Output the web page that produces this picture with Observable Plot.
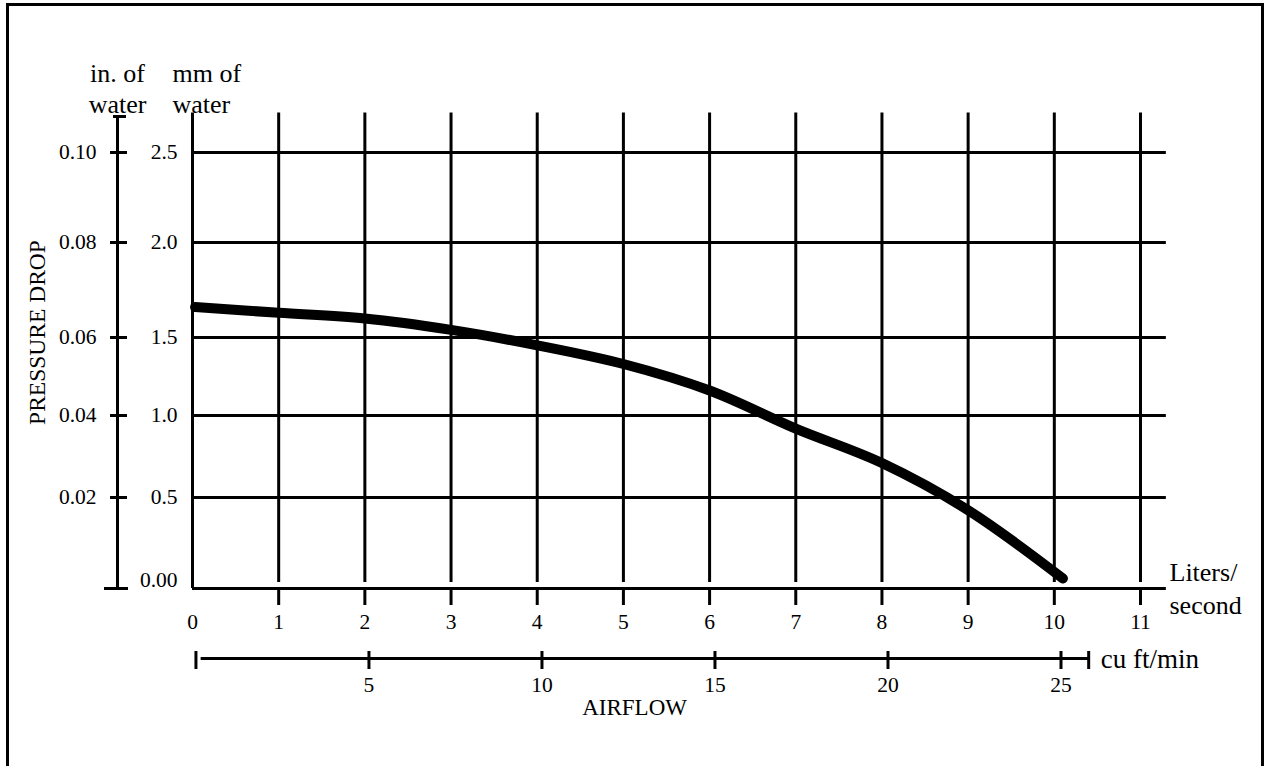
<!DOCTYPE html>
<html><head><meta charset="utf-8">
<script src="https://cdn.jsdelivr.net/npm/d3@7"></script>
<script src="https://cdn.jsdelivr.net/npm/@observablehq/plot@0.6"></script>
<style>
html,body{margin:0;padding:0;overflow:hidden;background:#fff;width:1264px;height:766px}
#chart{position:absolute;left:0;top:0}
#border{position:absolute;left:6px;top:3px;width:1252px;height:800px;border:3px solid #000;border-bottom:none;pointer-events:none}
</style></head><body>
<div id="chart"></div><div id="border"></div>
<script>
// ---- data ----
const airflowLps = [0.03, 1, 2, 3, 4, 5, 6, 7, 8, 9, 10.1];
const pressureMm = [1.66, 1.63, 1.60, 1.54, 1.45, 1.33, 1.16, 0.92, 0.71, 0.43, 0.055];
const lpsTicks = [0, 1, 2, 3, 4, 5, 6, 7, 8, 9, 10, 11];
const mmTicks = [0.5, 1.0, 1.5, 2.0, 2.5];
const inTicks = [0.02, 0.04, 0.06, 0.08, 0.10];
const inZeroLabel = "0.00";
const cfmTicks = [5, 10, 15, 20, 25];
const cfmEnds = [0, 25.8];
const mmPerInch = 25;                  // alignment of the two pressure scales in the chart
const cfmToLps = c => 0.04 + 0.4015 * c; // alignment of the cfm scale with the L/s scale

const gridTop = 2.72, gridRight = 11.3;
const curve = airflowLps.map((x, i) => ({x, y: pressureMm[i]}));
const SW = 3;
const NUM = 21.5, WORD = 26, CAPS = 23;

const chart = Plot.plot({
  width: 1264, height: 766,
  marginLeft: 192, marginRight: 124, marginTop: 152, marginBottom: 178,
  style: {fontFamily: "'Liberation Serif', 'Times New Roman', serif", fontSize: "21px", background: "white", color: "black"},
  x: {type: "linear", domain: [0, 11], axis: null},
  y: {type: "linear", domain: [0, 0.5, 1, 1.5, 2, 2.5], range: [588, 497, 415, 337, 242, 152], axis: null},
  marks: [
    // grid
    Plot.ruleY([0, ...mmTicks], {y: d => d, x1: 0, x2: gridRight, strokeWidth: SW}),
    Plot.ruleX([0], {x: d => d, y1: gridTop, y2: 0, strokeWidth: SW}),
    Plot.ruleX(lpsTicks.slice(1), {x: d => d, y1: gridTop, y2: 0, insetBottom: 6, strokeWidth: SW}),
    Plot.ruleX(lpsTicks.slice(1), {x: d => d, y1: 0, y2: 0, insetTop: 2, insetBottom: -17, strokeWidth: SW}),
    // inch axis
    Plot.ruleX([0], {x: d => d, y1: 0, y2: 2.7, dx: -75, strokeWidth: SW}),
    Plot.ruleY(inTicks, {y: d => d * mmPerInch, x1: 0, x2: 0, dx: -75, insetLeft: -7, insetRight: -10, strokeWidth: SW}),
    Plot.ruleY([0], {y: d => d, x1: 0, x2: 0, dx: -75, insetLeft: -13, insetRight: -11, strokeWidth: SW}),
    Plot.ruleY([2.7], {y: d => d, x1: 0, x2: 0, dx: -75, insetLeft: -4, insetRight: -9, strokeWidth: SW}),
    // cfm axis
    Plot.ruleY([0], {y: d => d, x1: cfmToLps(0.15), x2: cfmToLps(cfmEnds[1]), dy: 70, strokeWidth: SW}),
    Plot.ruleX([...cfmEnds, ...cfmTicks], {x: cfmToLps, y1: 0, y2: 0, dy: 70, insetTop: -7, insetBottom: -11, strokeWidth: SW}),
    // curve
    Plot.line(curve, {x: "x", y: "y", stroke: "black", strokeWidth: 10, curve: "catmull-rom"}),
    // labels
    Plot.text(lpsTicks, {x: d => d, frameAnchor: "bottom", lineAnchor: "middle", dy: 34, text: d => `${d}`, fontSize: NUM}),
    Plot.text(mmTicks, {y: d => d, frameAnchor: "left", lineAnchor: "middle", dx: -15, textAnchor: "end", text: d => d.toFixed(1), fontSize: NUM}),
    Plot.text([inZeroLabel], {y: () => 0, frameAnchor: "left", lineAnchor: "middle", dx: -15, dy: -8, textAnchor: "end", text: d => d, fontSize: NUM}),
    Plot.text(inTicks, {y: d => d * mmPerInch, frameAnchor: "left", lineAnchor: "middle", dx: -96, textAnchor: "end", text: d => d.toFixed(2), fontSize: NUM}),
    Plot.text(["in. of\nwater"], {frameAnchor: "top-left", lineAnchor: "middle", dx: -75, dy: -64.5, textAnchor: "middle", lineHeight: 1.19, fontSize: WORD}),
    Plot.text(["mm of\nwater"], {frameAnchor: "top-left", lineAnchor: "middle", dx: -20, dy: -64.5, textAnchor: "start", lineHeight: 1.19, fontSize: WORD}),
    Plot.text(["PRESSURE DROP"], {frameAnchor: "left", lineAnchor: "middle", textAnchor: "middle", dx: -155, dy: -38, rotate: -90, fontSize: 23.5}),
    Plot.text(["Liters/\nsecond"], {frameAnchor: "bottom-right", lineAnchor: "middle", dx: 29, dy: -1.5, textAnchor: "start", lineHeight: 1.27, fontSize: WORD}),
    Plot.text(cfmTicks, {x: cfmToLps, frameAnchor: "bottom", lineAnchor: "middle", dy: 97, text: d => `${d}`, fontSize: NUM}),
    Plot.text(["cu ft/min"], {x: () => cfmToLps(cfmEnds[1]), frameAnchor: "bottom", lineAnchor: "middle", dy: 71, dx: 12, textAnchor: "start", fontSize: WORD + 1}),
    Plot.text(["AIRFLOW"], {x: () => 5.13, frameAnchor: "bottom", lineAnchor: "middle", dy: 119, fontSize: CAPS})
  ]
});
document.getElementById("chart").appendChild(chart);
</script>
</body></html>
